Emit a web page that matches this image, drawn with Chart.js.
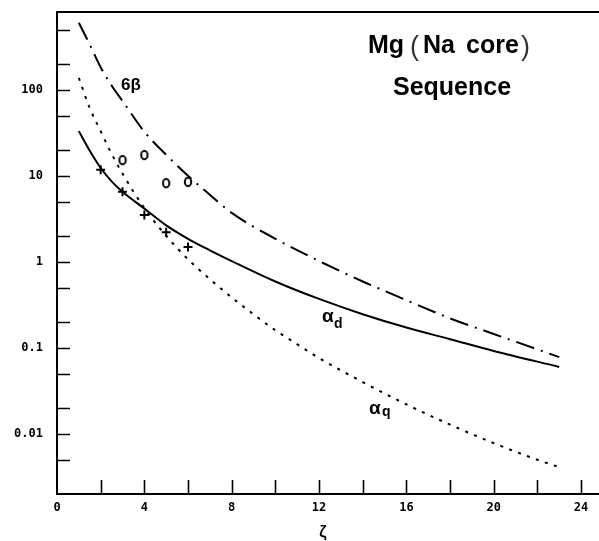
<!DOCTYPE html>
<html>
<head>
<meta charset="utf-8">
<script src="https://cdn.jsdelivr.net/npm/chart.js@4.4.1/dist/chart.umd.min.js"></script>
<style>
  html, body { margin: 0; padding: 0; background: #fff; }
  #wrap { width: 599px; height: 541px; }
</style>
</head>
<body>
<div id="wrap"><canvas id="polChart"></canvas></div>
<script>
// 6 beta curve
const zeta6b = [1, 1.5, 2, 2.5, 3, 4, 5, 6, 7, 8, 10, 12, 14, 15, 18, 20, 23];
const beta6 = [600, 335, 182, 112, 74, 32.5, 17.5, 10, 6.0, 3.7, 1.85, 1.02, 0.59, 0.46, 0.22, 0.145, 0.078];

// dipole polarizability alpha_d
const zetaD = [1, 1.5, 2, 2.5, 3, 4, 5, 6, 7, 8, 10, 12, 14, 16, 18, 20, 23];
const alphaD = [33, 19.5, 12.3, 8.6, 6.5, 4.15, 2.65, 1.85, 1.36, 1.02, 0.59, 0.37, 0.246, 0.172, 0.126, 0.092, 0.06];

// quadrupole polarizability alpha_q
const zetaQ = [1, 1.5, 2, 2.5, 3, 4, 5, 6, 7, 8, 9, 10, 11, 12, 14, 16, 18, 20, 22, 23];
const alphaQ = [137, 61, 33, 18, 10.6, 4.2, 2.0, 1.07, 0.63, 0.385, 0.245, 0.16, 0.11, 0.076, 0.04, 0.022, 0.0128, 0.0078, 0.005, 0.0041];

// measured points
const zetaO = [3, 4, 5, 6];
const valO = [15.2, 17.4, 8.2, 8.5];
const zetaP = [2, 3, 4, 5, 6];
const valP = [11.7, 6.5, 3.5, 2.2, 1.49];

// axis ticks
const xTicks = [0, 2, 4, 6, 8, 10, 12, 14, 16, 18, 20, 22, 24];
const yTicks = [0.005, 0.01, 0.02, 0.05, 0.1, 0.2, 0.5, 1, 2, 5, 10, 20, 50, 100, 200, 500];
const yLabelled = [0.01, 0.1, 1, 10, 100];

const pts = (xs, ys) => xs.map((x, i) => ({ x: x, y: ys[i] }));

function curve(xs, ys, dash) {
    return {
        data: pts(xs, ys),
        showLine: true,
        borderColor: '#000',
        borderWidth: 2,
        borderDash: dash,
        pointRadius: 0,
        cubicInterpolationMode: 'monotone',
        fill: false
    };
}

// open oval marker
const oval = document.createElement('canvas');
oval.width = 12; oval.height = 14;
(function () {
    const c = oval.getContext('2d');
    c.lineWidth = 2;
    c.strokeStyle = '#000';
    c.beginPath();
    c.ellipse(6, 7, 3.2, 4.2, 0, 0, Math.PI * 2);
    c.stroke();
})();

const boldSans = '"Liberation Sans", Arial, sans-serif';

const frameAndTicks = {
    id: 'frameAndTicks',
    afterDraw(chart) {
        const { ctx, chartArea: a, scales: { x, y } } = chart;
        ctx.save();
        ctx.strokeStyle = '#000';
        ctx.lineWidth = 1.6;
        ctx.beginPath();
        y.ticks.forEach(t => {
            const py = Math.round(y.getPixelForValue(t.value)) + 0.5;
            ctx.moveTo(a.left, py);
            ctx.lineTo(a.left + 13, py);
        });
        x.ticks.forEach(t => {
            if (t.value === 0) return;
            const px = Math.round(x.getPixelForValue(t.value)) + 0.5;
            ctx.moveTo(px, a.bottom);
            ctx.lineTo(px, a.bottom - 14);
        });
        ctx.stroke();

        // left, top and bottom edges
        ctx.lineWidth = 2;
        ctx.beginPath();
        ctx.moveTo(chart.width, a.top);
        ctx.lineTo(a.left, a.top);
        ctx.lineTo(a.left, a.bottom);
        ctx.lineTo(chart.width, a.bottom);
        ctx.stroke();

        ctx.fillStyle = '#000';
        ctx.textBaseline = 'alphabetic';
        ctx.textAlign = 'left';

        // curve labels
        ctx.font = 'bold 17px ' + boldSans;
        ctx.fillText('6β', 121, 90);
        ctx.font = 'bold 19px ' + boldSans;
        ctx.fillText('α', 322, 322);
        ctx.fillText('α', 369, 414);
        ctx.font = 'bold 14px ' + boldSans;
        ctx.fillText('d', 334, 328);
        ctx.fillText('q', 382, 416);

        // title
        ctx.font = 'bold 25px ' + boldSans;
        ctx.fillText('Mg', 368, 53);
        ctx.fillText('Na', 423, 53);
        ctx.fillText('core', 466, 53);
        ctx.fillText('Sequence', 393, 95);
        ctx.font = '300 27px ' + boldSans;
        ctx.fillStyle = '#333';
        ctx.fillText('(', 410, 55);
        ctx.fillText(')', 521, 55);

        // x axis title
        ctx.fillStyle = '#000';
        ctx.textAlign = 'center';
        ctx.font = 'bold 16px ' + boldSans;
        ctx.fillText('ζ', 323, 537);
        ctx.restore();
    }
};

document.addEventListener("DOMContentLoaded", function () {
    const ctx = document.getElementById('polChart');
    const tickFont = { family: '"DejaVu Sans Mono", monospace', weight: 'bold', size: 12 };

    new Chart(ctx, {
        type: 'scatter',
        data: {
            datasets: [
                curve(zeta6b, beta6, [19, 7, 2, 7]),
                curve(zetaD, alphaD, []),
                curve(zetaQ, alphaQ, [3, 6.5]),
                {
                    data: pts(zetaO, valO),
                    pointStyle: oval,
                    pointRadius: 6
                },
                {
                    data: pts(zetaP, valP),
                    pointStyle: 'cross',
                    pointRadius: 4.5,
                    borderColor: '#000',
                    borderWidth: 2
                }
            ]
        },
        options: {
            responsive: true,
            maintainAspectRatio: false,
            animation: false,
            layout: { padding: { top: 12, right: 1, left: 0, bottom: 0 } },
            plugins: {
                legend: { display: false },
                tooltip: { enabled: false }
            },
            scales: {
                x: {
                    type: 'linear',
                    min: 0,
                    max: 24.5,
                    afterBuildTicks: s => { s.ticks = xTicks.map(v => ({ value: v })); },
                    afterFit: s => {
                        s.height = 47;
                        s.paddingLeft = 0;
                        s.paddingRight = 0;
                    },
                    grid: { display: false, drawTicks: false },
                    border: { display: false },
                    ticks: {
                        color: '#000',
                        font: tickFont,
                        padding: 7,
                        maxRotation: 0,
                        autoSkip: false,
                        callback: v => (v % 4 === 0 ? String(v) : '')
                    }
                },
                y: {
                    type: 'logarithmic',
                    min: 0.002,
                    max: 800,
                    afterBuildTicks: s => { s.ticks = yTicks.map(v => ({ value: v })); },
                    afterFit: s => {
                        s.width = 57;
                        s.paddingTop = 0;
                        s.paddingBottom = 0;
                    },
                    grid: { display: false, drawTicks: false },
                    border: { display: false },
                    ticks: {
                        color: '#000',
                        font: tickFont,
                        padding: 14,
                        autoSkip: false,
                        callback: v => (yLabelled.includes(v) ? String(v) : '')
                    }
                }
            }
        },
        plugins: [frameAndTicks]
    });
});
</script>
</body>
</html>
